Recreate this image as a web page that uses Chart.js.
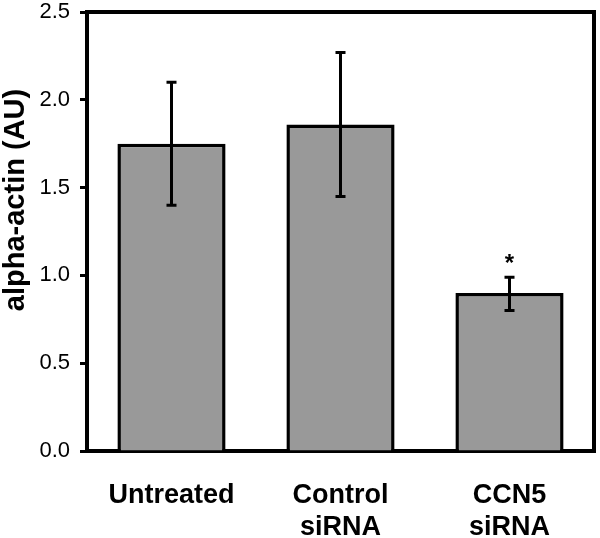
<!DOCTYPE html>
<html>
<head>
<meta charset="utf-8">
<script src="https://cdn.jsdelivr.net/npm/chart.js@4.4.0/dist/chart.umd.min.js"></script>
<style>
  html, body { margin: 0; padding: 0; background: #ffffff; }
  #wrap { width: 600px; height: 538px; position: relative; }
</style>
</head>
<body>
<div id="wrap"><canvas id="c" width="600" height="538"></canvas></div>
<script>
// ---- data ----
const categories = [["Untreated"], ["Control", "siRNA"], ["CCN5", "siRNA"]];
const means = [1.75, 1.86, 0.90];
const errLow = [1.40, 1.45, 0.80];
const errHigh = [2.10, 2.27, 0.99];
const significance = ["", "", "*"];
const yTicks = [0.0, 0.5, 1.0, 1.5, 2.0, 2.5];
const yTitle = "alpha-actin (AU)";

const FONT = "'Liberation Sans', Arial, Helvetica, sans-serif";

const framePlugin = {
  id: 'frame',
  afterDatasetsDraw(chart) {
    const ctx = chart.ctx;
    const a = chart.chartArea;
    const x = chart.scales.x, y = chart.scales.y;
    ctx.save();
    ctx.strokeStyle = '#000';
    ctx.lineWidth = 3;
    ctx.lineCap = 'butt';
    means.forEach((m, i) => {
      const cx = x.getPixelForValue(i);
      const yl = y.getPixelForValue(errLow[i]);
      const yh = y.getPixelForValue(errHigh[i]);
      ctx.beginPath();
      ctx.moveTo(cx, yl); ctx.lineTo(cx, yh);
      ctx.moveTo(cx - 5, yh); ctx.lineTo(cx + 5, yh);
      ctx.moveTo(cx - 5, yl); ctx.lineTo(cx + 5, yl);
      ctx.stroke();
      if (significance[i]) {
        ctx.fillStyle = '#000';
        ctx.font = "bold 24px " + FONT;
        ctx.textAlign = 'center';
        ctx.textBaseline = 'alphabetic';
        ctx.fillText(significance[i], cx, yh - 6);
      }
    });
    ctx.lineWidth = 4;
    ctx.lineCap = 'square';
    ctx.beginPath();
    ctx.moveTo(a.left, a.top);
    ctx.lineTo(a.right, a.top);
    ctx.lineTo(a.right, a.bottom);
    ctx.stroke();
    // y-axis title (offset upward as in the reference)
    ctx.translate(24, 200);
    ctx.rotate(-Math.PI / 2);
    ctx.fillStyle = '#000';
    ctx.font = "bold 29px " + FONT;
    ctx.textAlign = 'center';
    ctx.textBaseline = 'alphabetic';
    ctx.fillText(yTitle, 0, 0);
    ctx.restore();
  }
};

new Chart(document.getElementById('c'), {
  type: 'bar',
  data: {
    labels: categories,
    datasets: [{
      data: means,
      backgroundColor: '#999999',
      borderColor: '#000000',
      borderWidth: 3.5,
      borderSkipped: 'bottom',
      barPercentage: 0.64,
      categoryPercentage: 1.0
    }]
  },
  options: {
    responsive: false,
    animation: false,
    devicePixelRatio: 1,
    layout: { padding: { left: 0, right: 6, top: 0, bottom: 0 } },
    plugins: { legend: { display: false }, tooltip: { enabled: false } },
    scales: {
      x: {
        grid: { display: false },
        border: { display: true, color: '#000', width: 4 },
        ticks: {
          color: '#000',
          font: { family: FONT, size: 27, weight: 'bold', lineHeight: 1.185 },
          padding: 21,
          maxRotation: 0, autoSkip: false
        },
        afterFit(s) { s.height = 87; }
      },
      y: {
        min: 0, max: 2.5,
        afterBuildTicks(s) { s.ticks = yTicks.map(v => ({ value: v })); },
        grid: { display: true, drawOnChartArea: false, drawTicks: true, tickLength: 7, color: '#000', tickWidth: 3 },
        border: { display: true, color: '#000', width: 4 },
        ticks: {
          color: '#000',
          font: { family: FONT, size: 22 },
          padding: 10,
          callback: (v) => Number(v).toFixed(1)
        },
        title: { display: false },
        afterFit(s) { s.width = 87; s.paddingTop = 12; }
      }
    }
  },
  plugins: [framePlugin]
});
</script>
</body>
</html>
